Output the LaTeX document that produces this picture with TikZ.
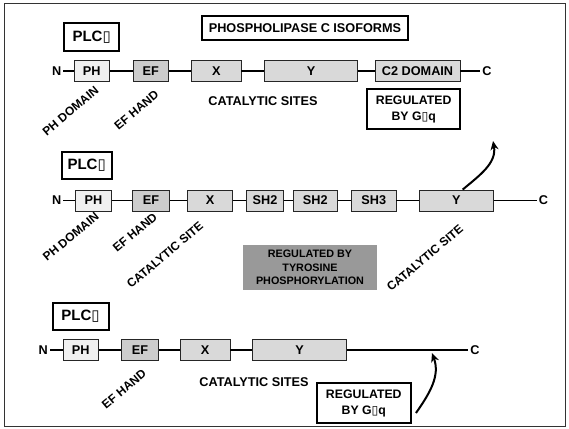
\documentclass[tikz,border=0pt]{standalone}
\usepackage{fontspec}
\setmainfont{Liberation Sans}
\newfontfamily\symf{DejaVu Sans}
\usetikzlibrary{arrows.meta}
\newcommand\nog{{\symf\bfseries\symbol{"25AF}}}
\begin{document}
\begin{tikzpicture}[x=1pt,y=-1pt,
  every node/.style={inner sep=0pt},
  lab/.style={font=\bfseries\fontsize{12.7}{15}\selectfont},
  end/.style={lab, inner sep=2pt},
  dom/.style={lab, draw=black!85, line width=0.9pt, minimum height=21pt},
  phf/.style={dom, fill=black!6},
  eff/.style={dom, fill=black!20},
  catf/.style={dom, fill=black!15},
  rot/.style={font=\bfseries\fontsize{12}{14}\selectfont, rotate=40},
  plcbox/.style={draw, line width=2pt, font=\bfseries\fontsize{15}{18}\selectfont},
  regbox/.style={draw, line width=2pt, align=center, font=\bfseries\fontsize{12.3}{16}\selectfont},
  bb/.style={line width=1.8pt},
  arr/.style={line width=2pt, -{Stealth[length=9pt,width=8pt]}}
]
\useasboundingbox (0,0) rectangle (569,428);
\draw[line width=0.8pt, black!80] (4,3) rectangle (565,426);

% title
\node[lab, draw, line width=1.3pt, minimum width=206pt, minimum height=24pt] (title) at (305,28) {PHOSPHOLIPASE C ISOFORMS};

% ---------- row 1
\node[plcbox, minimum width=54.7pt, minimum height=27.4pt] (plc1) at (91.7,37) {PLC\nog};
\node[end] (n1) at (56.7,71) {N};
\node[phf, minimum width=35pt] (ph1) at (91.8,71) {PH};
\node[eff, minimum width=35pt] (ef1) at (150.8,71) {EF};
\node[catf, minimum width=49.3pt] (x1) at (216.3,71) {X};
\node[catf, minimum width=93.4pt] (y1) at (311,71) {Y};
\node[catf, minimum width=85pt] (c21) at (417.5,71) {C2 DOMAIN};
\node[end] (c1) at (487,71) {C};
\draw[bb] (n1) -- (ph1) -- (ef1) -- (x1) -- (y1) -- (c21) -- (c1);
\node[rot] (phd1) at (70.5,111) {PH DOMAIN};
\node[rot] (efh1) at (136.5,110) {EF HAND};
\node[lab] (cat1) at (263,101) {CATALYTIC SITES};
\node[regbox, minimum width=92.7pt, minimum height=40pt] (reg1) at (413.7,109.3) {REGULATED\\BY G\nog q};

% ---------- row 2
\node[plcbox, minimum width=50pt, minimum height=27.6pt] (plc2) at (86.7,165.5) {PLC\nog};
\node[end] (n2) at (56.7,200.5) {N};
\node[phf, minimum width=36.4pt] (ph2) at (93.5,200.5) {PH};
\node[eff, minimum width=36.6pt] (ef2) at (151,200.5) {EF};
\node[catf, minimum width=45pt] (x2) at (210.2,200.5) {X};
\node[catf, minimum width=36.6pt] (sha) at (265,200.5) {SH2};
\node[catf, minimum width=44pt] (shb) at (315.3,200.5) {SH2};
\node[catf, minimum width=44.3pt] (shc) at (373.8,200.5) {SH3};
\node[catf, minimum width=74pt] (y2) at (456.3,200.5) {Y};
\node[end] (c2) at (543.5,200.5) {C};
\draw[bb] (n2) -- (ph2) -- (ef2) -- (x2) -- (sha) -- (shb) -- (shc) -- (y2) -- (c2);
\node[rot] (phd2) at (70.8,236.7) {PH DOMAIN};
\node[rot] (efh2) at (135,232.5) {EF HAND};
\node[rot] (cat2a) at (165,255) {CATALYTIC SITE};
\node[rot] (cat2b) at (425,258) {CATALYTIC SITE};
\node[fill=black!40, minimum width=133.4pt, minimum height=45pt, align=center,
      font=\bfseries\fontsize{10.8}{13.5}\selectfont] (tyr) at (310,267.5)
      {REGULATED BY\\TYROSINE\\PHOSPHORYLATION};
\coordinate (tip2) at (493,141);
\draw[arr] ([xshift=6.4pt]y2.north) to[out=40,in=-80] (tip2);

% ---------- row 3
\node[plcbox, minimum width=56pt, minimum height=27pt] (plc3) at (80.5,316.5) {PLC\nog};
\node[end] (n3) at (43.3,350) {N};
\node[phf, minimum width=35pt] (ph3) at (80.8,350) {PH};
\node[eff, minimum width=36.6pt] (ef3) at (140,350) {EF};
\node[catf, minimum width=50pt] (x3) at (205,350) {X};
\node[catf, minimum width=94pt] (y3) at (299.7,350) {Y};
\node[end] (c3) at (475,350) {C};
\draw[bb] (n3) -- (ph3) -- (ef3) -- (x3) -- (y3) -- (c3);
\node[rot] (efh3) at (124,389) {EF HAND};
\node[lab] (cat3) at (254,382) {CATALYTIC SITES};
\node[regbox, minimum width=94.3pt, minimum height=39.4pt] (reg3) at (363.8,403) {REGULATED\\BY G\nog q};
\coordinate (tip3) at (432,353);
\draw[arr] ([xshift=4pt,yshift=-10pt]reg3.east) to[out=55,in=-70] (tip3);
\end{tikzpicture}
\end{document}
